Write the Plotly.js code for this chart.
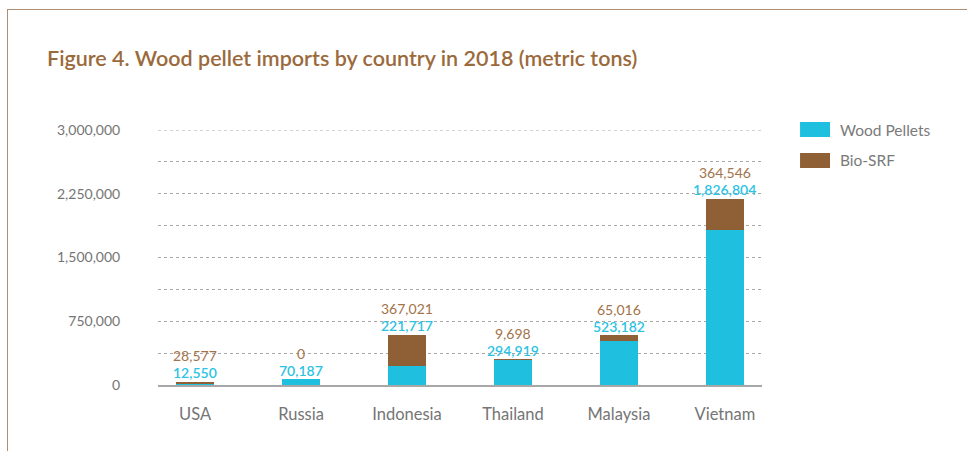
<!DOCTYPE html>
<html>
<head>
<meta charset="utf-8">
<script src="https://cdn.plot.ly/plotly-3.0.1.min.js"></script>
<style>
  html, body { margin: 0; padding: 0; background: #fff; }
  #wrap { position: relative; width: 967px; height: 451px; }
  #chart { position: absolute; left: 0; top: 0; width: 967px; height: 451px; }
  #frame { position: absolute; left: 7px; top: 9px; width: 960px; height: 442px;
           border-top: 1.5px solid #b08d70; border-left: 1.5px solid #b08d70;
           pointer-events: none; box-sizing: border-box; }
</style>
</head>
<body>
<div id="wrap"><div id="chart"></div><div id="frame"></div></div>
<script>
const countries = ["USA", "Russia", "Indonesia", "Thailand", "Malaysia", "Vietnam"];
const woodPellets = [12550, 70187, 221717, 294919, 523182, 1826804];
const bioSRF = [28577, 0, 367021, 9698, 65016, 364546];
const seriesNames = ["Wood Pellets", "Bio-SRF"];
const tickValues = [0, 375000, 750000, 1125000, 1500000, 1875000, 2250000, 2625000, 3000000];
const tickLabels = ["0", "", "750,000", "", "1,500,000", "", "2,250,000", "", "3,000,000"];

const BLUE = "#1fbfe0";
const BROWN = "#8f5f36";
const BLUE_TXT = "#2cc3e3";
const BROWN_TXT = "#a3734a";
const FONT = "Lato, 'Open Sans', sans-serif";

const fmt = v => v.toLocaleString("en-US");

const traces = [
  { type: "bar", x: countries, y: woodPellets, name: seriesNames[0],
    marker: { color: BLUE }, hoverinfo: "none", showlegend: false },
  { type: "bar", x: countries, y: bioSRF, name: seriesNames[1],
    marker: { color: BROWN }, hoverinfo: "none", showlegend: false }
];

const annotations = [];
countries.forEach((c, i) => {
  const total = woodPellets[i] + bioSRF[i];
  annotations.push({ x: c, y: total, xref: "x", yref: "y", text: fmt(woodPellets[i]),
    showarrow: false, yanchor: "middle", yshift: 9,
    font: { family: FONT, size: 14, color: BLUE_TXT, weight: 600 } });
  annotations.push({ x: c, y: total, xref: "x", yref: "y", text: fmt(bioSRF[i]),
    showarrow: false, yanchor: "middle", yshift: 26,
    font: { family: FONT, size: 14, color: BROWN_TXT } });
});

// custom legend (swatches + labels)
const legendColors = [BLUE, BROWN];
const legendY = [[0.9725, 1.0314], [0.851, 0.9098]];
const shapes = [];
// top gridline at the range edge
shapes.push({ type: "line", xref: "paper", yref: "y", x0: 0, x1: 1,
  y0: tickValues[tickValues.length - 1], y1: tickValues[tickValues.length - 1],
  line: { color: "#a8a8a8", width: 1, dash: "dot" } });
seriesNames.forEach((n, i) => {
  shapes.push({ type: "rect", xref: "paper", yref: "paper",
    x0: 1.063, x1: 1.1126, y0: legendY[i][0], y1: legendY[i][1],
    fillcolor: legendColors[i], line: { width: 0 } });
  annotations.push({ xref: "paper", yref: "paper", x: 1.1258,
    y: (legendY[i][0] + legendY[i][1]) / 2, xanchor: "left", yanchor: "middle",
    text: n, showarrow: false, font: { family: FONT, size: 15.5, color: "#7a7a7a" } });
});

const layout = {
  width: 967, height: 451,
  margin: { l: 158, r: 205, t: 130, b: 66 },
  paper_bgcolor: "#fff", plot_bgcolor: "#fff",
  title: { text: "Figure 4. Wood pellet imports by country in 2018 (metric tons)",
    xref: "container", yref: "container", x: 47 / 967, xanchor: "left",
    y: 1 - 58 / 451, yanchor: "middle",
    font: { family: FONT, size: 21.5, color: "#9b6a3c", weight: 600 } },
  barmode: "stack",
  bargap: 0.64,
  showlegend: false,
  xaxis: { range: [-0.35, 5.35], showline: true, linecolor: "#a8a8a8", linewidth: 2,
    showgrid: false, ticks: "outside", ticklen: 13, tickcolor: "rgba(0,0,0,0)",
    tickfont: { family: FONT, size: 16.5, color: "#757575" }, fixedrange: true },
  yaxis: { range: [0, 3000000], tickmode: "array", tickvals: tickValues, ticktext: tickLabels,
    showgrid: true, gridcolor: "#a8a8a8", griddash: "dot", gridwidth: 1,
    zeroline: false, showline: false, ticks: "outside", ticklen: 34,
    tickcolor: "rgba(0,0,0,0)",
    tickfont: { family: FONT, size: 14, color: "#757575" }, fixedrange: true },
  annotations: annotations,
  shapes: shapes
};

Plotly.newPlot("chart", traces, layout, { displayModeBar: false, staticPlot: true });
</script>
</body>
</html>
